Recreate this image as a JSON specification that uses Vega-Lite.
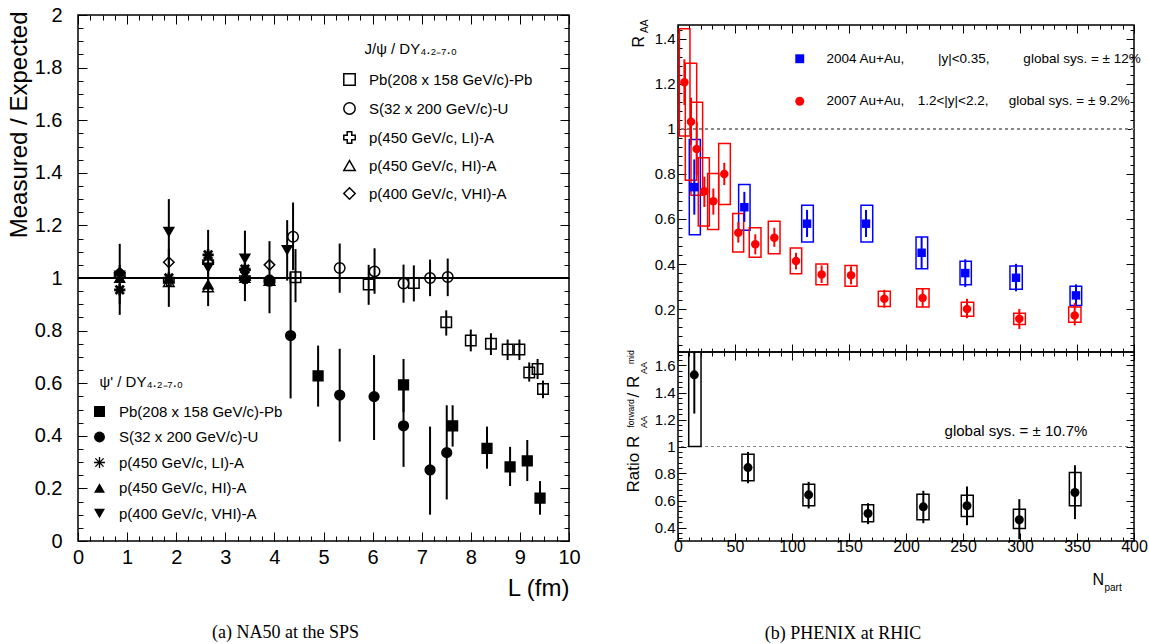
{
  "$schema": "https://vega.github.io/schema/vega-lite/v6.json",
  "background": "white",
  "padding": {"left": 6, "top": 4, "right": 0, "bottom": 0},
  "config": {
    "view": {"stroke": "black", "strokeWidth": 1.5},
    "font": "Liberation Sans",
    "axis": {"domain": false, "grid": false, "labelFont": "Liberation Sans", "titleFont": "Liberation Sans", "labelColor": "black", "titleColor": "black", "tickColor": "black", "tickWidth": 1, "titleFontWeight": "normal", "labelFlush": false, "labelOverlap": false},
    "legend": {"labelFont": "Liberation Sans", "titleFont": "Liberation Sans", "labelColor": "black", "titleColor": "black", "titleFontWeight": "normal"},
    "text": {"font": "Liberation Sans"}
  },
  "spacing": 109,
  "bounds": "flush",
  "resolve": {"scale": {"color": "independent", "shape": "independent"}, "legend": {"color": "independent", "shape": "independent"}},
  "hconcat": [
    {
      "width": 491,
      "height": 526,
      "title": {"text": "(a) NA50 at the SPS", "orient": "bottom", "anchor": "middle", "frame": "group", "dx": -38, "offset": 24, "font": "Liberation Serif", "fontSize": 18, "fontWeight": "normal", "color": "black"},
      "data": {"values": [
        {"L": 4.43, "v": 1.003, "lo": 0.908, "hi": 1.11, "g": "J", "s": "Pb"},
        {"L": 5.92, "v": 0.975, "lo": 0.898, "hi": 1.05, "g": "J", "s": "Pb"},
        {"L": 6.84, "v": 0.981, "lo": 0.911, "hi": 1.048, "g": "J", "s": "Pb"},
        {"L": 7.50, "v": 0.832, "lo": 0.781, "hi": 0.877, "g": "J", "s": "Pb"},
        {"L": 8.0, "v": 0.762, "lo": 0.721, "hi": 0.804, "g": "J", "s": "Pb"},
        {"L": 8.41, "v": 0.75, "lo": 0.707, "hi": 0.79, "g": "J", "s": "Pb"},
        {"L": 8.75, "v": 0.728, "lo": 0.688, "hi": 0.766, "g": "J", "s": "Pb"},
        {"L": 8.99, "v": 0.728, "lo": 0.688, "hi": 0.766, "g": "J", "s": "Pb"},
        {"L": 9.19, "v": 0.641, "lo": 0.606, "hi": 0.679, "g": "J", "s": "Pb"},
        {"L": 9.36, "v": 0.654, "lo": 0.616, "hi": 0.692, "g": "J", "s": "Pb"},
        {"L": 9.47, "v": 0.578, "lo": 0.543, "hi": 0.61, "g": "J", "s": "Pb"},
        {"L": 4.38, "v": 1.157, "lo": 1.03, "hi": 1.287, "g": "J", "s": "SU"},
        {"L": 5.33, "v": 1.038, "lo": 0.944, "hi": 1.131, "g": "J", "s": "SU"},
        {"L": 6.04, "v": 1.025, "lo": 0.94, "hi": 1.113, "g": "J", "s": "SU"},
        {"L": 6.63, "v": 0.979, "lo": 0.906, "hi": 1.051, "g": "J", "s": "SU"},
        {"L": 7.17, "v": 1.0, "lo": 0.931, "hi": 1.07, "g": "J", "s": "SU"},
        {"L": 7.53, "v": 1.004, "lo": 0.931, "hi": 1.074, "g": "J", "s": "SU"},
        {"L": 0.85, "v": 1.01, "g": "J", "s": "LI"},
        {"L": 1.85, "v": 0.99, "g": "J", "s": "LI"},
        {"L": 2.65, "v": 1.06, "g": "J", "s": "LI"},
        {"L": 3.4, "v": 1.0, "g": "J", "s": "LI"},
        {"L": 3.9, "v": 0.99, "g": "J", "s": "LI"},
        {"L": 0.85, "v": 1.02, "g": "J", "s": "HI"},
        {"L": 1.85, "v": 0.985, "g": "J", "s": "HI"},
        {"L": 2.65, "v": 0.965, "g": "J", "s": "HI"},
        {"L": 3.4, "v": 1.01, "g": "J", "s": "HI"},
        {"L": 3.9, "v": 0.99, "g": "J", "s": "HI"},
        {"L": 0.85, "v": 1.02, "g": "J", "s": "VHI"},
        {"L": 1.85, "v": 1.06, "g": "J", "s": "VHI"},
        {"L": 2.65, "v": 1.06, "g": "J", "s": "VHI"},
        {"L": 3.4, "v": 1.03, "g": "J", "s": "VHI"},
        {"L": 3.9, "v": 1.05, "g": "J", "s": "VHI"},
        {"L": 4.89, "v": 0.628, "lo": 0.511, "hi": 0.743, "g": "P", "s": "Pb"},
        {"L": 6.63, "v": 0.594, "lo": 0.49, "hi": 0.692, "g": "P", "s": "Pb"},
        {"L": 7.63, "v": 0.438, "lo": 0.359, "hi": 0.516, "g": "P", "s": "Pb"},
        {"L": 8.33, "v": 0.352, "lo": 0.275, "hi": 0.435, "g": "P", "s": "Pb"},
        {"L": 8.80, "v": 0.282, "lo": 0.209, "hi": 0.358, "g": "P", "s": "Pb"},
        {"L": 9.15, "v": 0.305, "lo": 0.228, "hi": 0.384, "g": "P", "s": "Pb"},
        {"L": 9.41, "v": 0.163, "lo": 0.10, "hi": 0.228, "g": "P", "s": "Pb"},
        {"L": 4.33, "v": 0.781, "lo": 0.542, "hi": 1.02, "g": "P", "s": "SU"},
        {"L": 5.33, "v": 0.555, "lo": 0.378, "hi": 0.731, "g": "P", "s": "SU"},
        {"L": 6.03, "v": 0.549, "lo": 0.384, "hi": 0.707, "g": "P", "s": "SU"},
        {"L": 6.63, "v": 0.438, "lo": 0.282, "hi": 0.594, "g": "P", "s": "SU"},
        {"L": 7.17, "v": 0.27, "lo": 0.10, "hi": 0.435, "g": "P", "s": "SU"},
        {"L": 7.51, "v": 0.336, "lo": 0.158, "hi": 0.516, "g": "P", "s": "SU"},
        {"L": 0.85, "v": 0.955, "lo": 0.86, "hi": 1.05, "g": "P", "s": "LI"},
        {"L": 1.85, "v": 1.0, "g": "P", "s": "LI"},
        {"L": 2.65, "v": 1.088, "lo": 0.99, "hi": 1.183, "g": "P", "s": "LI"},
        {"L": 3.4, "v": 1.034, "g": "P", "s": "LI"},
        {"L": 3.9, "v": 0.99, "g": "P", "s": "LI"},
        {"L": 0.85, "v": 1.0, "lo": 0.90, "hi": 1.13, "g": "P", "s": "HI"},
        {"L": 1.85, "v": 0.998, "lo": 0.89, "hi": 1.11, "g": "P", "s": "HI"},
        {"L": 2.65, "v": 0.975, "lo": 0.893, "hi": 1.06, "g": "P", "s": "HI"},
        {"L": 3.4, "v": 1.0, "lo": 0.912, "hi": 1.09, "g": "P", "s": "HI"},
        {"L": 3.9, "v": 0.99, "lo": 0.866, "hi": 1.14, "g": "P", "s": "HI"},
        {"L": 0.85, "v": 1.01, "g": "P", "s": "VHI"},
        {"L": 1.85, "v": 1.176, "lo": 1.05, "hi": 1.30, "g": "P", "s": "VHI"},
        {"L": 2.65, "v": 1.04, "g": "P", "s": "VHI"},
        {"L": 3.4, "v": 1.074, "lo": 0.97, "hi": 1.18, "g": "P", "s": "VHI"},
        {"L": 3.9, "v": 0.985, "g": "P", "s": "VHI"},
        {"L": 4.26, "v": 1.107, "lo": 0.99, "hi": 1.22, "g": "P", "s": "VHI"}
      ]},
      "resolve": {"scale": {"shape": "independent"}, "legend": {"shape": "independent"}, "axis": {"x": "independent", "y": "independent"}},
      "layer": [
        {
          "mark": {"type": "rule", "color": "black", "strokeWidth": 1.5},
          "encoding": {"y": {"datum": 1, "type": "quantitative", "scale": {"domain": [0, 2], "nice": false, "zero": false}, "axis": null}}
        },
        {
          "transform": [{"filter": "isValid(datum.lo)"}],
          "mark": {"type": "rule", "color": "black", "strokeWidth": 2},
          "encoding": {
            "x": {"field": "L", "type": "quantitative", "scale": {"domain": [0, 10], "nice": false, "zero": false},
                  "axis": {"orient": "bottom", "values": [0,1,2,3,4,5,6,7,8,9,10], "tickSize": -9, "labelFontSize": 20, "labelPadding": 15, "format": "~r", "title": "L (fm)", "titleFontSize": 24, "titleX": 491, "titleY": 47, "titleAlign": "right", "titleBaseline": "middle", "titleAngle": 0}},
            "y": {"field": "lo", "type": "quantitative", "scale": {"domain": [0, 2], "nice": false, "zero": false},
                  "axis": {"orient": "left", "values": [0,0.2,0.4,0.6,0.8,1,1.2,1.4,1.6,1.8,2], "tickSize": -9, "labelFontSize": 20, "labelPadding": 25, "format": "~r", "title": "Measured / Expected", "titleFontSize": 24, "titleX": -59, "titleY": -4, "titleAlign": "right", "titleBaseline": "middle", "titleAngle": 270}},
            "y2": {"field": "hi"}
          }
        },
        {
          "transform": [{"filter": "datum.g == 'J'"}],
          "mark": {"type": "point", "filled": false, "color": "black", "strokeWidth": 1.5, "size": 110, "opacity": 1},
          "encoding": {
            "x": {"field": "L", "type": "quantitative", "scale": {"domain": [0, 10], "nice": false, "zero": false},
                  "axis": {"orient": "bottom", "values": [0.25,0.5,0.75,1,1.25,1.5,1.75,2,2.25,2.5,2.75,3,3.25,3.5,3.75,4,4.25,4.5,4.75,5,5.25,5.5,5.75,6,6.25,6.5,6.75,7,7.25,7.5,7.75,8,8.25,8.5,8.75,9,9.25,9.5,9.75], "tickSize": -5, "labels": false, "title": null}},
            "y": {"field": "v", "type": "quantitative", "scale": {"domain": [0, 2], "nice": false, "zero": false},
                  "axis": {"orient": "left", "values": [0.05,0.1,0.15,0.2,0.25,0.3,0.35,0.4,0.45,0.5,0.55,0.6,0.65,0.7,0.75,0.8,0.85,0.9,0.95,1,1.05,1.1,1.15,1.2,1.25,1.3,1.35,1.4,1.45,1.5,1.55,1.6,1.65,1.7,1.75,1.8,1.85,1.9,1.95], "tickSize": -5, "labels": false, "title": null}},
            "shape": {"field": "s", "type": "nominal",
                      "scale": {"domain": ["Pb", "SU", "LI", "HI", "VHI"], "range": ["square", "circle", "cross", "triangle-up", "diamond"]},
                      "legend": {"orient": "none", "legendX": 264, "legendY": 27, "direction": "vertical", "padding": 0,
                                 "title": "\u200b\u2002\u2002\u2002J/ψ / DY₄.₂₋₇.₀", "titleFontSize": 15, "titlePadding": 15, "titleLimit": 400,
                                 "labelFontSize": 15, "labelOffset": 12, "labelLimit": 400, "rowPadding": 10,
                                 "symbolSize": 130, "symbolStrokeWidth": 1.5, "symbolStrokeColor": "black", "symbolFillColor": "transparent",
                                 "labelExpr": "datum.label == 'Pb' ? 'Pb(208 x 158 GeV/c)-Pb' : datum.label == 'SU' ? 'S(32 x 200 GeV/c)-U' : datum.label == 'LI' ? 'p(450 GeV/c, LI)-A' : datum.label == 'HI' ? 'p(450 GeV/c, HI)-A' : 'p(400 GeV/c, VHI)-A'"}}
          }
        },
        {
          "transform": [{"filter": "datum.g == 'P'"}],
          "mark": {"type": "point", "filled": true, "color": "black", "stroke": "black", "strokeWidth": 1.5, "size": 95, "opacity": 1},
          "encoding": {
            "x": {"field": "L", "type": "quantitative", "scale": {"domain": [0, 10], "nice": false, "zero": false},
                  "axis": {"orient": "top", "values": [0,1,2,3,4,5,6,7,8,9,10], "tickSize": -9, "labels": false, "title": null}},
            "y": {"field": "v", "type": "quantitative", "scale": {"domain": [0, 2], "nice": false, "zero": false},
                  "axis": {"orient": "right", "values": [0,0.2,0.4,0.6,0.8,1,1.2,1.4,1.6,1.8,2], "tickSize": -9, "labels": false, "title": null}},
            "shape": {"field": "s", "type": "nominal",
                      "scale": {"domain": ["Pb", "SU", "LI", "HI", "VHI"], "range": ["square", "circle", "M-1,-0.12L1,-0.12L1,0.12L-1,0.12Z M-0.12,-1L0.12,-1L0.12,1L-0.12,1Z M-0.835,-0.665L-0.665,-0.835L0.835,0.665L0.665,0.835Z M-0.665,0.835L-0.835,0.665L0.665,-0.835L0.835,-0.665Z", "triangle-up", "triangle-down"]},
                      "legend": {"orient": "none", "legendX": 14, "legendY": 360, "direction": "vertical", "padding": 0,
                                 "title": "\u200b\u2002ψ' / DY₄.₂₋₇.₀", "titleFontSize": 15, "titlePadding": 14, "titleLimit": 400,
                                 "labelFontSize": 15, "labelOffset": 12, "labelLimit": 400, "rowPadding": 8.5,
                                 "symbolSize": 120, "symbolStrokeWidth": 1.5, "symbolStrokeColor": "black", "symbolFillColor": "black",
                                 "encode": {"symbols": {"update": {"stroke": {"value": "black"}, "strokeWidth": {"value": 1.5}, "fill": {"value": "black"}, "opacity": {"value": 1}}}},
                                 "labelExpr": "datum.label == 'Pb' ? 'Pb(208 x 158 GeV/c)-Pb' : datum.label == 'SU' ? 'S(32 x 200 GeV/c)-U' : datum.label == 'LI' ? 'p(450 GeV/c, LI)-A' : datum.label == 'HI' ? 'p(450 GeV/c, HI)-A' : 'p(400 GeV/c, VHI)-A'"}}
          }
        },
        {
          "mark": {"type": "point", "opacity": 0},
          "encoding": {
            "x": {"field": "L", "type": "quantitative", "scale": {"domain": [0, 10], "nice": false, "zero": false},
                  "axis": {"orient": "top", "values": [0.25,0.5,0.75,1,1.25,1.5,1.75,2,2.25,2.5,2.75,3,3.25,3.5,3.75,4,4.25,4.5,4.75,5,5.25,5.5,5.75,6,6.25,6.5,6.75,7,7.25,7.5,7.75,8,8.25,8.5,8.75,9,9.25,9.5,9.75], "tickSize": -5, "labels": false, "title": null}},
            "y": {"field": "v", "type": "quantitative", "scale": {"domain": [0, 2], "nice": false, "zero": false},
                  "axis": {"orient": "right", "values": [0.05,0.1,0.15,0.2,0.25,0.3,0.35,0.4,0.45,0.5,0.55,0.6,0.65,0.7,0.75,0.8,0.85,0.9,0.95,1,1.05,1.1,1.15,1.2,1.25,1.3,1.35,1.4,1.45,1.5,1.55,1.6,1.65,1.7,1.75,1.8,1.85,1.9,1.95], "tickSize": -5, "labels": false, "title": null}}
          }
        }
      ]
    },
    {
      "spacing": 0,
      "bounds": "flush",
      "resolve": {"scale": {"color": "independent", "shape": "independent"}, "legend": {"color": "independent", "shape": "independent"}},
      "vconcat": [
        {
          "width": 456,
          "height": 10,
          "view": {"stroke": null, "fill": null},
          "data": {"values": [{"a": 0}]},
          "mark": {"type": "point", "opacity": 0},
          "encoding": {}
        },
        {
          "width": 456,
          "height": 327,
          "data": {"values": [
            {"N": 14.3, "v": 0.741, "slo": 0.619, "shi": 0.864, "xlo": 9.9, "xhi": 19.6, "blo": 0.53, "bhi": 0.952, "yr": "2004"},
            {"N": 58.2, "v": 0.652, "slo": 0.587, "shi": 0.72, "xlo": 53.2, "xhi": 63.2, "blo": 0.55, "bhi": 0.753, "yr": "2004"},
            {"N": 113.2, "v": 0.579, "slo": 0.52, "shi": 0.64, "xlo": 108.5, "xhi": 118.7, "blo": 0.498, "bhi": 0.661, "yr": "2004"},
            {"N": 164.9, "v": 0.579, "slo": 0.52, "shi": 0.64, "xlo": 160.5, "xhi": 170.8, "blo": 0.498, "bhi": 0.661, "yr": "2004"},
            {"N": 213.7, "v": 0.45, "slo": 0.38, "shi": 0.52, "xlo": 208.8, "xhi": 219, "blo": 0.379, "bhi": 0.52, "yr": "2004"},
            {"N": 252, "v": 0.36, "slo": 0.298, "shi": 0.421, "xlo": 247.4, "xhi": 257.3, "blo": 0.308, "bhi": 0.412, "yr": "2004"},
            {"N": 296.5, "v": 0.339, "slo": 0.279, "shi": 0.401, "xlo": 291.2, "xhi": 302, "blo": 0.288, "bhi": 0.391, "yr": "2004"},
            {"N": 349.1, "v": 0.261, "slo": 0.213, "shi": 0.31, "xlo": 343.9, "xhi": 354.1, "blo": 0.216, "bhi": 0.301, "yr": "2004"},
            {"N": 5.6, "v": 1.206, "slo": 1.105, "shi": 1.308, "xlo": 1.2, "xhi": 10.5, "blo": 0.968, "bhi": 1.443, "yr": "2007"},
            {"N": 11.4, "v": 1.031, "slo": 0.927, "shi": 1.138, "xlo": 6.4, "xhi": 16.4, "blo": 0.772, "bhi": 1.29, "yr": "2007"},
            {"N": 16.4, "v": 0.91, "slo": 0.794, "shi": 1.03, "xlo": 11.4, "xhi": 21.6, "blo": 0.705, "bhi": 1.117, "yr": "2007"},
            {"N": 23.1, "v": 0.723, "slo": 0.653, "shi": 0.787, "xlo": 17.8, "xhi": 27.5, "blo": 0.569, "bhi": 0.871, "yr": "2007"},
            {"N": 31, "v": 0.679, "slo": 0.619, "shi": 0.735, "xlo": 26, "xhi": 35.7, "blo": 0.553, "bhi": 0.801, "yr": "2007"},
            {"N": 40.6, "v": 0.799, "slo": 0.75, "shi": 0.849, "xlo": 35.7, "xhi": 45.9, "blo": 0.664, "bhi": 0.935, "yr": "2007"},
            {"N": 52.9, "v": 0.539, "slo": 0.495, "shi": 0.587, "xlo": 48, "xhi": 57.6, "blo": 0.453, "bhi": 0.624, "yr": "2007"},
            {"N": 67.8, "v": 0.488, "slo": 0.443, "shi": 0.532, "xlo": 62.5, "xhi": 72.8, "blo": 0.43, "bhi": 0.561, "yr": "2007"},
            {"N": 84.5, "v": 0.517, "slo": 0.476, "shi": 0.561, "xlo": 79.2, "xhi": 89.5, "blo": 0.446, "bhi": 0.59, "yr": "2007"},
            {"N": 103.5, "v": 0.413, "slo": 0.376, "shi": 0.45, "xlo": 98.5, "xhi": 108.5, "blo": 0.357, "bhi": 0.471, "yr": "2007"},
            {"N": 126, "v": 0.354, "slo": 0.316, "shi": 0.394, "xlo": 121, "xhi": 131.3, "blo": 0.308, "bhi": 0.4, "yr": "2007"},
            {"N": 151.8, "v": 0.35, "slo": 0.31, "shi": 0.39, "xlo": 146.5, "xhi": 157, "blo": 0.302, "bhi": 0.394, "yr": "2007"},
            {"N": 181, "v": 0.246, "slo": 0.206, "shi": 0.286, "xlo": 175.7, "xhi": 186.2, "blo": 0.212, "bhi": 0.279, "yr": "2007"},
            {"N": 214.6, "v": 0.25, "slo": 0.209, "shi": 0.29, "xlo": 209.4, "xhi": 220.2, "blo": 0.209, "bhi": 0.29, "yr": "2007"},
            {"N": 253.5, "v": 0.201, "slo": 0.16, "shi": 0.246, "xlo": 248.5, "xhi": 259.4, "blo": 0.169, "bhi": 0.231, "yr": "2007"},
            {"N": 299.4, "v": 0.157, "slo": 0.112, "shi": 0.201, "xlo": 294.5, "xhi": 304.7, "blo": 0.132, "bhi": 0.182, "yr": "2007"},
            {"N": 348, "v": 0.172, "slo": 0.128, "shi": 0.227, "xlo": 342.7, "xhi": 353.5, "blo": 0.142, "bhi": 0.209, "yr": "2007"}
          ]},
          "resolve": {"axis": {"x": "independent", "y": "independent"}},
          "layer": [
            {
              "mark": {"type": "rule", "color": "#888888", "strokeDash": [3, 3], "strokeWidth": 1},
              "encoding": {"y": {"datum": 1, "type": "quantitative", "scale": {"domain": [0.01, 1.46], "nice": false, "zero": false}, "axis": null}}
            },
            {
              "mark": {"type": "rect", "filled": false, "fill": null, "strokeWidth": 1.5, "clip": true},
              "encoding": {
                "x": {"field": "xlo", "type": "quantitative", "scale": {"domain": [0, 400], "nice": false, "zero": false},
                      "axis": {"orient": "bottom", "values": [0,50,100,150,200,250,300,350,400], "tickSize": -8, "labels": false, "title": null}},
                "x2": {"field": "xhi"},
                "y": {"field": "blo", "type": "quantitative", "scale": {"domain": [0.01, 1.46], "nice": false, "zero": false},
                      "axis": {"orient": "left", "values": [0.2,0.4,0.6,0.8,1,1.2,1.4], "tickSize": -8, "labelFontSize": 15, "labelPadding": 11, "format": "~r",
                               "title": "R", "titleFontSize": 16, "titleX": -39.5, "titleY": 22, "titleAlign": "left", "titleBaseline": "middle", "titleAngle": 270}},
                "y2": {"field": "bhi"},
                "stroke": {"condition": {"test": "datum.yr == '2004'", "value": "#0000ff"}, "value": "#ff0000"}
              }
            },
            {
              "mark": {"type": "rule", "strokeWidth": 2, "clip": true},
              "encoding": {
                "x": {"field": "N", "type": "quantitative", "scale": {"domain": [0, 400], "nice": false, "zero": false},
                      "axis": {"orient": "bottom", "values": [10,20,30,40,60,70,80,90,110,120,130,140,160,170,180,190,210,220,230,240,260,270,280,290,310,320,330,340,360,370,380,390], "tickSize": -4, "labels": false, "title": null}},
                "y": {"field": "slo", "type": "quantitative", "scale": {"domain": [0.01, 1.46], "nice": false, "zero": false},
                      "axis": {"orient": "left", "values": [0.04,0.08,0.12,0.16,0.24,0.28,0.32,0.36,0.44,0.48,0.52,0.56,0.64,0.68,0.72,0.76,0.84,0.88,0.92,0.96,1.04,1.08,1.12,1.16,1.24,1.28,1.32,1.36,1.44], "tickSize": -4, "labels": false,
                               "title": "AA", "titleFontSize": 10, "titleX": -34, "titleY": 7.5, "titleAlign": "left", "titleBaseline": "middle", "titleAngle": 270}},
                "y2": {"field": "shi"},
                "stroke": {"condition": {"test": "datum.yr == '2004'", "value": "#0000ff"}, "value": "#ff0000"}
              }
            },
            {
              "mark": {"type": "point", "filled": true, "opacity": 1, "size": 72},
              "encoding": {
                "x": {"field": "N", "type": "quantitative", "scale": {"domain": [0, 400], "nice": false, "zero": false},
                      "axis": {"orient": "top", "values": [0,50,100,150,200,250,300,350,400], "tickSize": -8, "labels": false, "title": null}},
                "y": {"field": "v", "type": "quantitative", "scale": {"domain": [0.01, 1.46], "nice": false, "zero": false},
                      "axis": {"orient": "right", "values": [0.2,0.4,0.6,0.8,1,1.2,1.4], "tickSize": -8, "labels": false, "title": null}},
                "color": {"field": "yr", "type": "nominal", "scale": {"domain": ["2004", "2007"], "range": ["#0000ff", "#ff0000"]},
                          "legend": {"orient": "none", "legendX": 115, "legendY": 27, "direction": "vertical", "padding": 0, "title": null,
                                     "labelFontSize": 13.5, "labelOffset": 20, "labelLimit": 600, "rowPadding": 27.5, "symbolSize": 80,
                                     "labelExpr": "datum.label == '2004' ? '2004 Au+Au,\u2002\u2002\u2002\u2002\u2002|y|<0.35,\u2002\u2002\u2002\u2002\u2002global sys. = ± 12%' : '2007 Au+Au,\u2002\u20021.2<|y|<2.2,\u2002\u2002\u2002global sys. = ± 9.2%'"}},
                "shape": {"field": "yr", "type": "nominal", "scale": {"domain": ["2004", "2007"], "range": ["square", "circle"]},
                          "legend": {"orient": "none", "legendX": 115, "legendY": 27, "direction": "vertical", "padding": 0, "title": null,
                                     "labelFontSize": 13.5, "labelOffset": 20, "labelLimit": 600, "rowPadding": 27.5, "symbolSize": 80,
                                     "labelExpr": "datum.label == '2004' ? '2004 Au+Au,\u2002\u2002\u2002\u2002\u2002|y|<0.35,\u2002\u2002\u2002\u2002\u2002global sys. = ± 12%' : '2007 Au+Au,\u2002\u20021.2<|y|<2.2,\u2002\u2002\u2002global sys. = ± 9.2%'"}}
              }
            },
            {
              "mark": {"type": "point", "opacity": 0},
              "encoding": {
                "x": {"field": "N", "type": "quantitative", "scale": {"domain": [0, 400], "nice": false, "zero": false},
                      "axis": {"orient": "top", "values": [10,20,30,40,60,70,80,90,110,120,130,140,160,170,180,190,210,220,230,240,260,270,280,290,310,320,330,340,360,370,380,390], "tickSize": -4, "labels": false, "title": null}},
                "y": {"field": "v", "type": "quantitative", "scale": {"domain": [0.01, 1.46], "nice": false, "zero": false},
                      "axis": {"orient": "right", "values": [0.04,0.08,0.12,0.16,0.24,0.28,0.32,0.36,0.44,0.48,0.52,0.56,0.64,0.68,0.72,0.76,0.84,0.88,0.92,0.96,1.04,1.08,1.12,1.16,1.24,1.28,1.32,1.36,1.44], "tickSize": -4, "labels": false, "title": null}}
              }
            }
          ]
        },
        {
          "width": 456,
          "height": 189,
          "title": {"text": "(b) PHENIX at RHIC", "orient": "bottom", "anchor": "middle", "frame": "group", "dx": -63, "offset": 33, "font": "Liberation Serif", "fontSize": 18, "fontWeight": "normal", "color": "black"},
          "data": {"values": [
            {"N": 14.3, "v": 1.531, "slo": 1.244, "shi": 1.75, "xlo": 9.4, "xhi": 20.2, "blo": 1.0, "bhi": 1.9},
            {"N": 61.4, "v": 0.844, "slo": 0.728, "shi": 0.96, "xlo": 56.1, "xhi": 66.7, "blo": 0.746, "bhi": 0.943},
            {"N": 114.6, "v": 0.642, "slo": 0.541, "shi": 0.738, "xlo": 109.6, "xhi": 119.9, "blo": 0.561, "bhi": 0.721},
            {"N": 166.7, "v": 0.504, "slo": 0.425, "shi": 0.58, "xlo": 161.4, "xhi": 171.6, "blo": 0.442, "bhi": 0.568},
            {"N": 215.2, "v": 0.553, "slo": 0.432, "shi": 0.672, "xlo": 209.6, "xhi": 220.2, "blo": 0.457, "bhi": 0.647},
            {"N": 253.5, "v": 0.561, "slo": 0.417, "shi": 0.704, "xlo": 248.5, "xhi": 259, "blo": 0.481, "bhi": 0.639},
            {"N": 299.4, "v": 0.457, "slo": 0.313, "shi": 0.61, "xlo": 294.2, "xhi": 304.7, "blo": 0.393, "bhi": 0.536},
            {"N": 348.2, "v": 0.659, "slo": 0.462, "shi": 0.861, "xlo": 343.3, "xhi": 353.5, "blo": 0.561, "bhi": 0.807}
          ]},
          "resolve": {"axis": {"x": "independent", "y": "independent"}},
          "layer": [
            {
              "mark": {"type": "rule", "color": "#888888", "strokeDash": [3, 3], "strokeWidth": 1},
              "encoding": {"y": {"datum": 1, "type": "quantitative", "scale": {"domain": [0.3, 1.7], "nice": false, "zero": false}, "axis": null}}
            },
            {
              "mark": {"type": "rect", "filled": false, "stroke": "black", "strokeWidth": 1.5, "clip": true},
              "encoding": {
                "x": {"field": "xlo", "type": "quantitative", "scale": {"domain": [0, 400], "nice": false, "zero": false},
                      "axis": {"orient": "bottom", "values": [0,50,100,150,200,250,300,350,400], "tickSize": -8, "labelFontSize": 16, "labelPadding": 5.5, "format": "~r",
                               "title": "N", "titleFontSize": 16, "titleX": 414, "titleY": 38, "titleAlign": "left", "titleBaseline": "middle", "titleAngle": 0}},
                "x2": {"field": "xhi"},
                "y": {"field": "blo", "type": "quantitative", "scale": {"domain": [0.3, 1.7], "nice": false, "zero": false},
                      "axis": {"orient": "left", "values": [0.4,0.6,0.8,1,1.2,1.4,1.6], "tickSize": -8, "labelFontSize": 15, "labelPadding": 11, "format": "~r",
                               "title": "Ratio R", "titleFontSize": 17, "titleX": -45, "titleY": 140, "titleAlign": "left", "titleBaseline": "middle", "titleAngle": 270}},
                "y2": {"field": "bhi"}
              }
            },
            {
              "mark": {"type": "rule", "color": "black", "strokeWidth": 2, "clip": true},
              "encoding": {
                "x": {"field": "N", "type": "quantitative", "scale": {"domain": [0, 400], "nice": false, "zero": false},
                      "axis": {"orient": "bottom", "values": [10,20,30,40,60,70,80,90,110,120,130,140,160,170,180,190,210,220,230,240,260,270,280,290,310,320,330,340,360,370,380,390], "tickSize": -4, "labels": false,
                               "title": "part", "titleFontSize": 10, "titleX": 426, "titleY": 46, "titleAlign": "left", "titleBaseline": "middle", "titleAngle": 0}},
                "y": {"field": "slo", "type": "quantitative", "scale": {"domain": [0.3, 1.7], "nice": false, "zero": false},
                      "axis": {"orient": "left", "values": [0.32,0.36,0.44,0.48,0.52,0.56,0.64,0.68,0.72,0.76,0.84,0.88,0.92,0.96,1.04,1.08,1.12,1.16,1.24,1.28,1.32,1.36,1.44,1.48,1.52,1.56,1.64,1.68], "tickSize": -4, "labels": false,
                               "title": "AA", "titleFontSize": 9, "titleX": -35, "titleY": 75.5, "titleAlign": "left", "titleBaseline": "middle", "titleAngle": 270}},
                "y2": {"field": "shi"}
              }
            },
            {
              "mark": {"type": "point", "filled": true, "color": "black", "size": 81, "opacity": 1},
              "encoding": {
                "x": {"field": "N", "type": "quantitative", "scale": {"domain": [0, 400], "nice": false, "zero": false},
                      "axis": {"orient": "top", "values": [0,50,100,150,200,250,300,350,400], "tickSize": -8, "labels": false, "title": null}},
                "y": {"field": "v", "type": "quantitative", "scale": {"domain": [0.3, 1.7], "nice": false, "zero": false},
                      "axis": {"orient": "right", "values": [0.4,0.6,0.8,1,1.2,1.4,1.6], "tickSize": -8, "labels": false, "title": null}}
              }
            },
            {
              "mark": {"type": "point", "opacity": 0},
              "encoding": {
                "x": {"field": "N", "type": "quantitative", "scale": {"domain": [0, 400], "nice": false, "zero": false},
                      "axis": {"orient": "top", "values": [10,20,30,40,60,70,80,90,110,120,130,140,160,170,180,190,210,220,230,240,260,270,280,290,310,320,330,340,360,370,380,390], "tickSize": -4, "labels": false, "title": null}},
                "y": {"field": "v", "type": "quantitative", "scale": {"domain": [0.3, 1.7], "nice": false, "zero": false},
                      "axis": {"orient": "right", "values": [0.32,0.36,0.44,0.48,0.52,0.56,0.64,0.68,0.72,0.76,0.84,0.88,0.92,0.96,1.04,1.08,1.12,1.16,1.24,1.28,1.32,1.36,1.44,1.48,1.52,1.56,1.64,1.68], "tickSize": -4, "labels": false, "title": null}}
              }
            },
            {
              "mark": {"type": "point", "opacity": 0},
              "encoding": {
                "x": {"field": "N", "type": "quantitative", "scale": {"domain": [0, 400], "nice": false, "zero": false}, "axis": null},
                "y": {"field": "v", "type": "quantitative", "scale": {"domain": [0.3, 1.7], "nice": false, "zero": false},
                      "axis": {"orient": "left", "ticks": false, "labels": false, "title": "forward", "titleFontSize": 8.5, "titleX": -47.5, "titleY": 75, "titleAlign": "left", "titleBaseline": "middle", "titleAngle": 270}}
              }
            },
            {
              "mark": {"type": "point", "opacity": 0},
              "encoding": {
                "x": {"field": "N", "type": "quantitative", "scale": {"domain": [0, 400], "nice": false, "zero": false}, "axis": null},
                "y": {"field": "v", "type": "quantitative", "scale": {"domain": [0.3, 1.7], "nice": false, "zero": false},
                      "axis": {"orient": "left", "ticks": false, "labels": false, "title": "/ R", "titleFontSize": 17, "titleX": -45, "titleY": 45, "titleAlign": "left", "titleBaseline": "middle", "titleAngle": 270}}
              }
            },
            {
              "mark": {"type": "point", "opacity": 0},
              "encoding": {
                "x": {"field": "N", "type": "quantitative", "scale": {"domain": [0, 400], "nice": false, "zero": false}, "axis": null},
                "y": {"field": "v", "type": "quantitative", "scale": {"domain": [0.3, 1.7], "nice": false, "zero": false},
                      "axis": {"orient": "left", "ticks": false, "labels": false, "title": "AA", "titleFontSize": 9, "titleX": -35, "titleY": 21.5, "titleAlign": "left", "titleBaseline": "middle", "titleAngle": 270}}
              }
            },
            {
              "mark": {"type": "point", "opacity": 0},
              "encoding": {
                "x": {"field": "N", "type": "quantitative", "scale": {"domain": [0, 400], "nice": false, "zero": false}, "axis": null},
                "y": {"field": "v", "type": "quantitative", "scale": {"domain": [0.3, 1.7], "nice": false, "zero": false},
                      "axis": {"orient": "left", "ticks": false, "labels": false, "title": "mid", "titleFontSize": 8.5, "titleX": -47.5, "titleY": 11.5, "titleAlign": "left", "titleBaseline": "middle", "titleAngle": 270}}
              }
            },
            {
              "data": {"values": [{"N": 296.5, "v": 1.113, "t": "global sys. = ± 10.7%"}]},
              "mark": {"type": "text", "fontSize": 15, "color": "black", "align": "center", "baseline": "middle"},
              "encoding": {
                "x": {"field": "N", "type": "quantitative", "scale": {"domain": [0, 400], "nice": false, "zero": false}, "axis": null},
                "y": {"field": "v", "type": "quantitative", "scale": {"domain": [0.3, 1.7], "nice": false, "zero": false}, "axis": null},
                "text": {"field": "t"}
              }
            }
          ]
        }
      ]
    }
  ]
}
